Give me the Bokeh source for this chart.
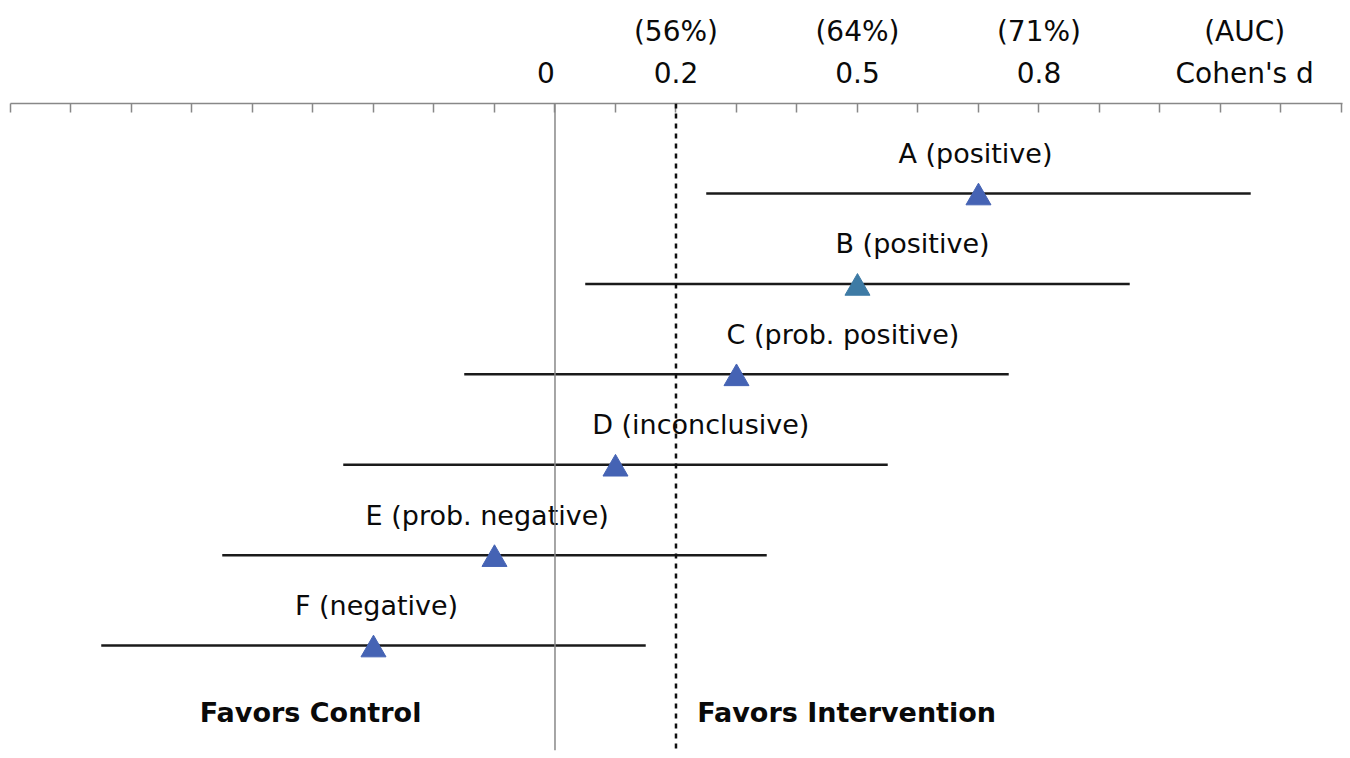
from bokeh.plotting import figure
from bokeh.models import Range1d, LinearAxis, FixedTicker, Span, ColumnDataSource, CustomJSTickFormatter
from bokeh.transform import dodge
from bokeh.core.properties import value
from bokeh.embed import file_html
from bokeh.resources import INLINE

# ---- data ----
studies = ["A", "B", "C", "D", "E", "F"]
verdicts = ["positive", "positive", "prob. positive", "inconclusive", "prob. negative", "negative"]
effect = [0.70, 0.50, 0.30, 0.10, -0.10, -0.30]
ci_low = [0.25, 0.05, -0.15, -0.35, -0.55, -0.75]
ci_high = [1.15, 0.95, 0.75, 0.55, 0.35, 0.15]
row = [6, 5, 4, 3, 2, 1]
label_center = [0.695, 0.591, 0.476, 0.241, -0.112, -0.295]
marker_colors = ["#4563b4", "#3e7ba5", "#4563b4", "#4563b4", "#4563b4", "#4563b4"]

axis_ticks = [-0.9, -0.8, -0.7, -0.6, -0.5, -0.4, -0.3, -0.2, -0.1, 0.0, 0.1,
              0.2, 0.3, 0.4, 0.5, 0.6, 0.7, 0.8, 0.9, 1.0, 1.1, 1.2, 1.3]
d_ticks = [-0.015, 0.2, 0.5, 0.8]
d_labels = ["0", "0.2", "0.5", "0.8"]
auc_ticks = [0.2, 0.5, 0.8]
auc_labels = ["(56%)", "(64%)", "(71%)"]
scale_name_x = 1.14
scale_name_d = "Cohen's d"
scale_name_auc = "(AUC)"
threshold = 0.2

side_labels = ["Favors Control", "Favors Intervention"]
side_label_x = [-0.404, 0.482]
side_label_y = [0.26, 0.26]

FONT = "DejaVu Sans"

labels = [f"{s} ({v})" for s, v in zip(studies, verdicts)]
src = ColumnDataSource(dict(study=studies, label=labels, effect=effect, lo=ci_low, hi=ci_high,
                            row=row, lx=label_center, color=marker_colors))

p = figure(width=1348, height=756,
           x_range=Range1d(-0.9, 1.3017), y_range=Range1d(-0.161, 6.996),
           output_backend="svg", toolbar_location=None,
           x_axis_location=None, y_axis_location=None,
           min_border_left=10, min_border_right=6, min_border_bottom=6, min_border_top=103)
p.outline_line_color = None
p.grid.grid_line_color = None
p.background_fill_color = "white"

# tick-mark axis
ax1 = LinearAxis(ticker=FixedTicker(ticks=axis_ticks),
                 formatter=CustomJSTickFormatter(code="return ''"),
                 major_tick_in=9, major_tick_out=0,
                 minor_tick_line_color=None,
                 major_label_text_font_size="10px", major_label_standoff=0,
                 axis_line_color="#888888", axis_line_width=1.5,
                 major_tick_line_color="#888888", major_tick_line_width=1.5)
p.add_layout(ax1, "above")

# Cohen's d labels
ax2 = LinearAxis(ticker=FixedTicker(ticks=d_ticks + [scale_name_x]),
                 major_label_overrides={**{t: l for t, l in zip(d_ticks, d_labels)}, scale_name_x: scale_name_d},
                 axis_line_color=None, major_tick_line_color=None, minor_tick_line_color=None,
                 major_tick_in=0, major_tick_out=0, major_label_standoff=14,
                 major_label_text_font=FONT, major_label_text_font_size="28px",
                 major_label_text_color="#0a0a0a")
p.add_layout(ax2, "above")

# AUC labels
ax3 = LinearAxis(ticker=FixedTicker(ticks=auc_ticks + [scale_name_x]),
                 major_label_overrides={**{t: l for t, l in zip(auc_ticks, auc_labels)}, scale_name_x: scale_name_auc},
                 axis_line_color=None, major_tick_line_color=None, minor_tick_line_color=None,
                 major_tick_in=0, major_tick_out=0, major_label_standoff=6,
                 major_label_text_font=FONT, major_label_text_font_size="28px",
                 major_label_text_color="#0a0a0a")
p.add_layout(ax3, "above")

# reference lines
p.add_layout(Span(location=0, dimension="height", line_color="#888888", line_width=1.5))
p.add_layout(Span(location=threshold, dimension="height", line_color="#111111",
                  line_width=2.5, line_dash="5 5"))

# confidence intervals
p.segment(x0="lo", x1="hi", y0="row", y1="row", source=src, line_color="#1a1a1a", line_width=2.5)

# point estimates
p.scatter(x="effect", y=dodge("row", -0.045, range=p.y_range), source=src, marker="triangle",
          size=25, fill_color="color", line_color="color")

# row labels
p.text(x="lx", y="row", text="label", source=src, text_font=value(FONT), text_font_size="27px",
       text_align="center", text_baseline="middle", y_offset=-40, text_color="#0a0a0a")

# side labels
p.text(x=side_label_x, y=side_label_y, text=side_labels, text_font=value(FONT),
       text_font_size="27px", text_font_style="bold", text_align="center",
       text_baseline="middle", text_color="#0a0a0a")

open("out.html", "w").write(file_html(p, INLINE))
